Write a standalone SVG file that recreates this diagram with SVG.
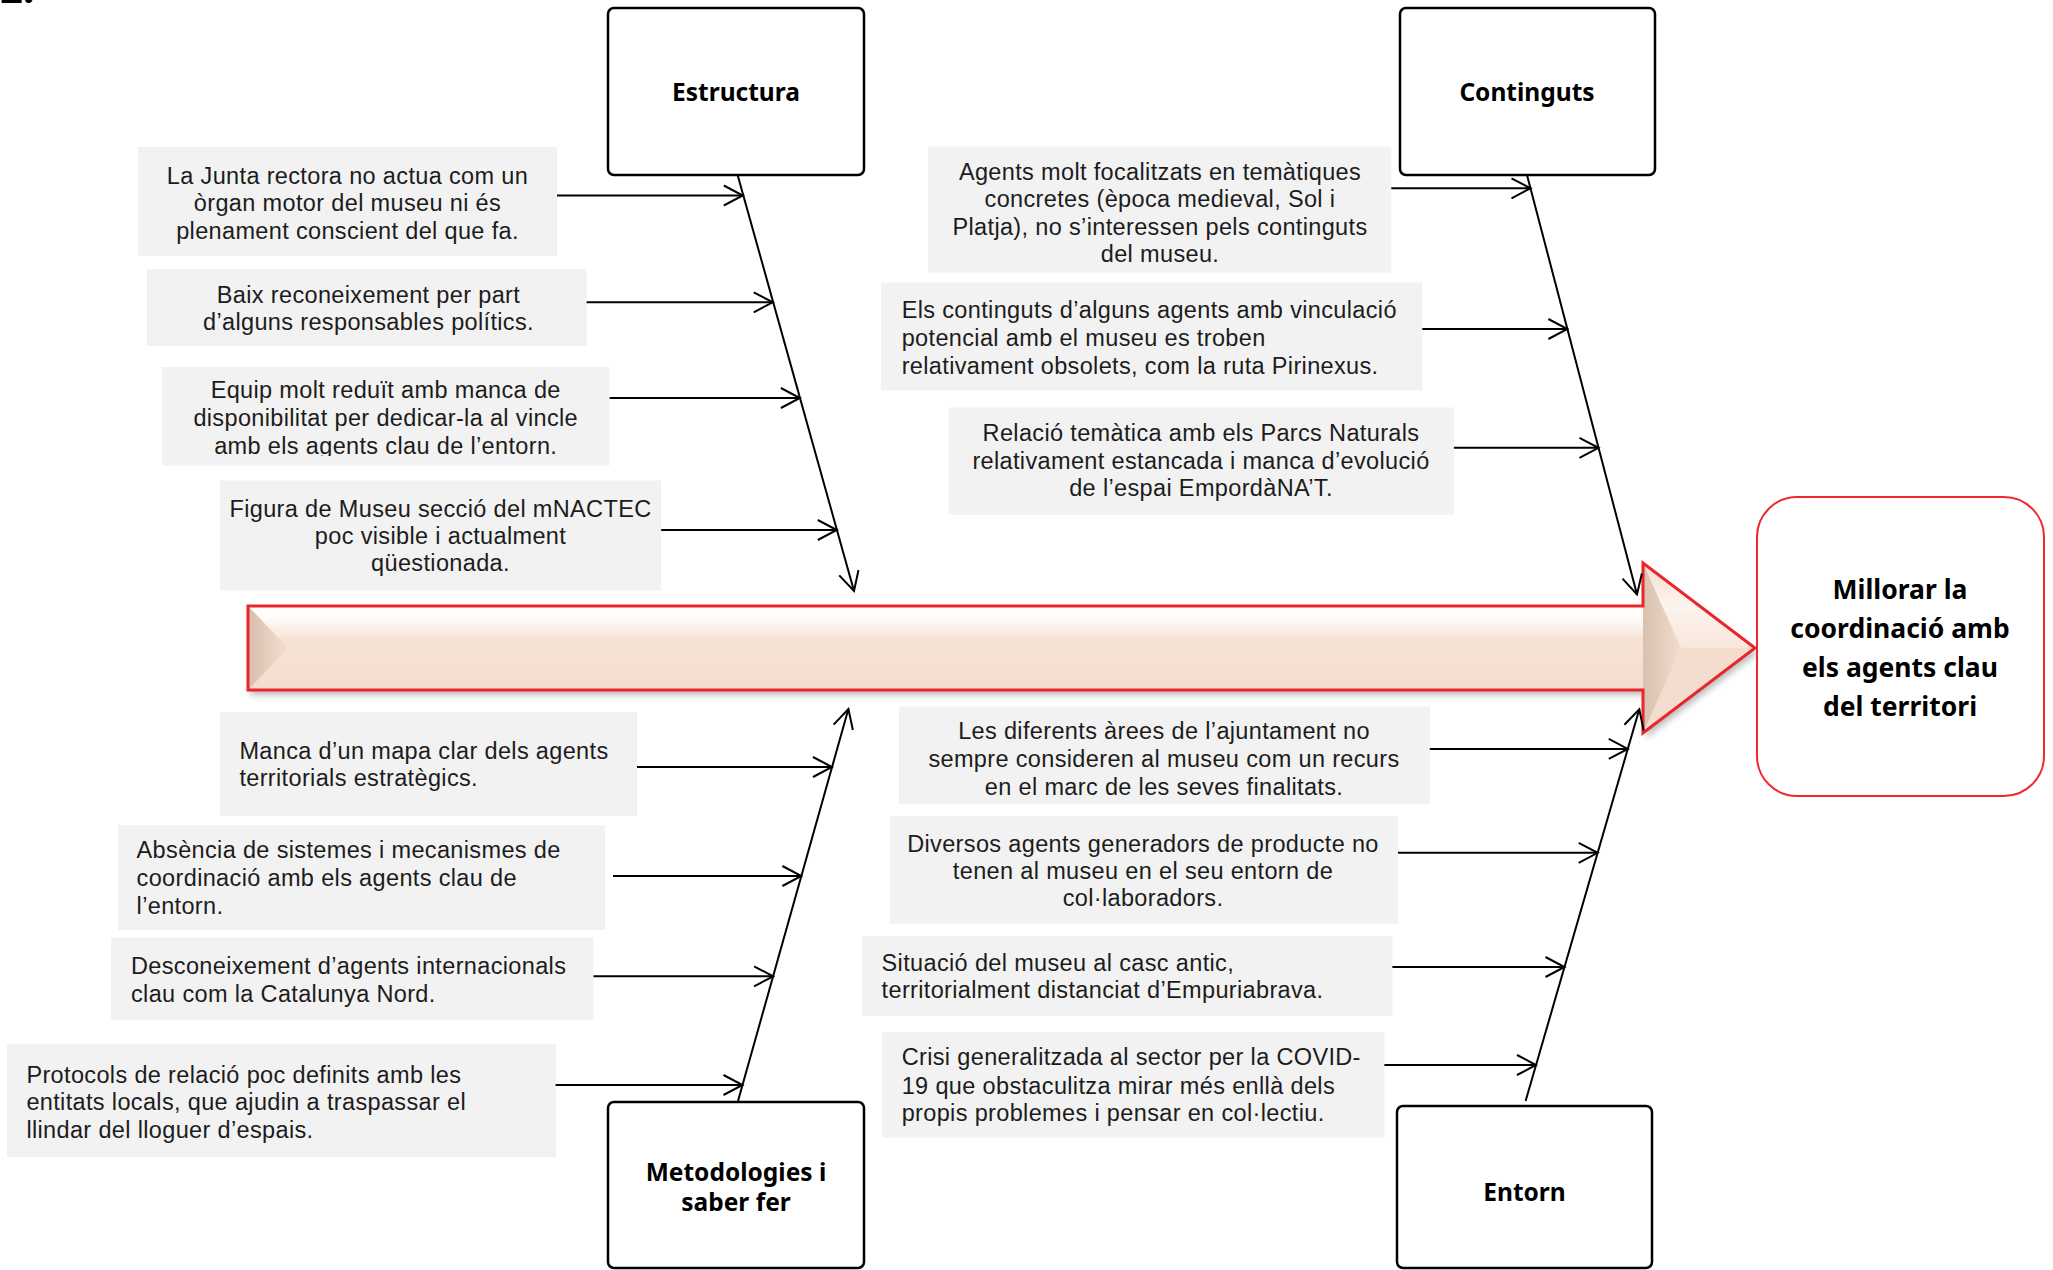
<svg xmlns="http://www.w3.org/2000/svg" width="2053" height="1270" viewBox="0 0 2053 1270">
<style>
  text { font-family: "Noto Sans", "Open Sans", "DejaVu Sans", sans-serif; fill: #1c1c1c; }
  .t { font-family: "Liberation Sans", Arial, sans-serif; font-size: 23.5px; letter-spacing: 0.35px; }
  .c { text-anchor: middle; }
  .h { font-size: 24.5px; font-weight: bold; fill: #000; text-anchor: middle; }
  .goal { font-size: 26.5px; font-weight: bold; fill: #000; text-anchor: middle; }
  .box { fill: #f2f2f2; stroke: none; }
  .cat { fill: #ffffff; stroke: #000; stroke-width: 2.5; }
  .ln { stroke: #000; stroke-width: 2; fill: none; marker-end: url(#ch); }
</style>
<defs>
  <marker id="ch" viewBox="-22 -12 24 24" refX="0" refY="0" markerWidth="24" markerHeight="24" orient="auto" markerUnits="userSpaceOnUse">
    <path d="M-19,-10 L0,0 L-19,10" fill="none" stroke="#000" stroke-width="2"/>
  </marker>
  <linearGradient id="body" x1="0" y1="606" x2="0" y2="690" gradientUnits="userSpaceOnUse">
    <stop offset="0" stop-color="#ffffff"/>
    <stop offset="0.15" stop-color="#fffbf8"/>
    <stop offset="0.4" stop-color="#f7e3d6"/>
    <stop offset="1" stop-color="#f4ddcf"/>
  </linearGradient>
  <linearGradient id="lbev" x1="249" y1="0" x2="290" y2="0" gradientUnits="userSpaceOnUse">
    <stop offset="0" stop-color="#d8bfae"/>
    <stop offset="1" stop-color="#f5e0d2"/>
  </linearGradient>
  <linearGradient id="hbev" x1="1643" y1="0" x2="1682" y2="0" gradientUnits="userSpaceOnUse">
    <stop offset="0" stop-color="#d9c1b0"/>
    <stop offset="1" stop-color="#f3dccd"/>
  </linearGradient>
  <linearGradient id="hup" x1="0" y1="563" x2="0" y2="648" gradientUnits="userSpaceOnUse">
    <stop offset="0" stop-color="#f1dccd"/>
    <stop offset="0.5" stop-color="#fdf4ee"/>
    <stop offset="1" stop-color="#f8e6da"/>
  </linearGradient>
  <filter id="sh" x="-5%" y="-30%" width="110%" height="160%">
    <feGaussianBlur stdDeviation="3"/>
  </filter>
  <clipPath id="clip3"><rect x="162" y="367" width="448" height="89"/></clipPath>
</defs>

<text x="0" y="3" style="font-size:40px;font-weight:bold;fill:#000">2.</text>

<!-- Main spine arrow -->
<g id="spine-arrow">
  <path d="M250,611 L1646,611 L1646,568 L1758,653 L1646,738 L1646,695 L250,695 Z" fill="#8a8a8a" opacity="0.55" filter="url(#sh)"/>
  <path d="M248,606 L1643,606 L1643,563 L1755,648 L1643,733 L1643,690 L248,690 Z" fill="url(#body)"/>
  <polygon points="249,607 288,648 249,689" fill="url(#lbev)"/>
  <polygon points="1643,563 1755,648 1681,648" fill="url(#hup)"/>
  <polygon points="1643,733 1755,648 1681,648" fill="#f4ddce"/>
  <polygon points="1643,563 1681,648 1643,733" fill="url(#hbev)"/>
  <path d="M248,606 L1643,606 L1643,563 L1755,648 L1643,733 L1643,690 L248,690 Z" fill="none" stroke="#e8262b" stroke-width="3" stroke-linejoin="miter"/>
</g>

<!-- Goal -->
<g id="goal">
  <rect x="1757" y="497" width="287" height="299" rx="40" ry="40" fill="#ffffff" stroke="#ee2a2f" stroke-width="2"/>
  <text class="goal" x="1900" y="599">Millorar la</text>
  <text class="goal" x="1900" y="638">coordinació amb</text>
  <text class="goal" x="1900" y="677">els agents clau</text>
  <text class="goal" x="1900" y="716">del territori</text>
</g>

<!-- Category nodes -->
<g id="cat-estructura">
  <rect class="cat" x="608" y="8" width="256" height="167" rx="6"/>
  <text class="h" x="736" y="100.5">Estructura</text>
</g>
<g id="cat-continguts">
  <rect class="cat" x="1400" y="8" width="255" height="167" rx="6"/>
  <text class="h" x="1527" y="100.5">Continguts</text>
</g>
<g id="cat-metodologies">
  <rect class="cat" x="608" y="1102" width="256" height="166" rx="6"/>
  <text class="h" x="736" y="1180.5">Metodologies i</text>
  <text class="h" x="736" y="1210.5">saber fer</text>
</g>
<g id="cat-entorn">
  <rect class="cat" x="1397" y="1106" width="255" height="162" rx="6"/>
  <text class="h" x="1524.5" y="1200.5">Entorn</text>
</g>

<!-- Cause boxes: Estructura -->
<g id="c1">
  <rect class="box" x="138" y="147" width="419" height="109"/>
  <text class="t c" x="347.5" y="183.5">La Junta rectora no actua com un</text>
  <text class="t c" x="347.5" y="211">òrgan motor del museu ni és</text>
  <text class="t c" x="347.5" y="238.5">plenament conscient del que fa.</text>
</g>
<g id="c2">
  <rect class="box" x="147" y="269" width="439.5" height="77"/>
  <text class="t c" x="368.5" y="302.7">Baix reconeixement per part</text>
  <text class="t c" x="368.5" y="330.3">d’alguns responsables polítics.</text>
</g>
<g id="c3">
  <rect class="box" x="162" y="367" width="447.5" height="98.5"/>
  <g clip-path="url(#clip3)">
    <text class="t c" x="385.7" y="398.3">Equip molt reduït amb manca de</text>
    <text class="t c" x="385.7" y="426">disponibilitat per dedicar-la al vincle</text>
    <text class="t c" x="385.7" y="453.6">amb els agents clau de l’entorn.</text>
  </g>
</g>
<g id="c4">
  <rect class="box" x="220" y="480.5" width="441" height="110"/>
  <text class="t c" x="440.5" y="517">Figura de Museu secció del mNACTEC</text>
  <text class="t c" x="440.5" y="544">poc visible i actualment</text>
  <text class="t c" x="440.5" y="571">qüestionada.</text>
</g>

<!-- Cause boxes: Continguts -->
<g id="c5">
  <rect class="box" x="928" y="146.6" width="463.3" height="126"/>
  <text class="t c" x="1160" y="180">Agents molt focalitzats en temàtiques</text>
  <text class="t c" x="1160" y="207.3">concretes (època medieval, Sol i</text>
  <text class="t c" x="1160" y="234.6">Platja), no s’interessen pels continguts</text>
  <text class="t c" x="1160" y="261.5">del museu.</text>
</g>
<g id="c6">
  <rect class="box" x="881" y="282.4" width="541.3" height="108"/>
  <text class="t" x="901.7" y="318">Els continguts d’alguns agents amb vinculació</text>
  <text class="t" x="901.7" y="346">potencial amb el museu es troben</text>
  <text class="t" x="901.7" y="373.5">relativament obsolets, com la ruta Pirinexus.</text>
</g>
<g id="c7">
  <rect class="box" x="948.5" y="407.5" width="505.4" height="107.2"/>
  <text class="t c" x="1201" y="441">Relació temàtica amb els Parcs Naturals</text>
  <text class="t c" x="1201" y="469">relativament estancada i manca d’evolució</text>
  <text class="t c" x="1201" y="496">de l’espai EmpordàNA’T.</text>
</g>

<!-- Cause boxes: Metodologies -->
<g id="c8">
  <rect class="box" x="220" y="712" width="417" height="104"/>
  <text class="t" x="239.4" y="758.8">Manca d’un mapa clar dels agents</text>
  <text class="t" x="239.4" y="786">territorials estratègics.</text>
</g>
<g id="c9">
  <rect class="box" x="118" y="825" width="487" height="105"/>
  <text class="t" x="136.6" y="858">Absència de sistemes i mecanismes de</text>
  <text class="t" x="136.6" y="886">coordinació amb els agents clau de</text>
  <text class="t" x="136.6" y="913.6">l’entorn.</text>
</g>
<g id="c10">
  <rect class="box" x="111" y="937.6" width="482.5" height="82.4"/>
  <text class="t" x="131" y="974">Desconeixement d’agents internacionals</text>
  <text class="t" x="131" y="1001.7">clau com la Catalunya Nord.</text>
</g>
<g id="c11">
  <rect class="box" x="7" y="1044" width="549" height="113"/>
  <text class="t" x="26.4" y="1082.6">Protocols de relació poc definits amb les</text>
  <text class="t" x="26.4" y="1110">entitats locals, que ajudin a traspassar el</text>
  <text class="t" x="26.4" y="1138">llindar del lloguer d’espais.</text>
</g>

<!-- Cause boxes: Entorn -->
<g id="c12">
  <rect class="box" x="899" y="706.5" width="531" height="97.7"/>
  <text class="t c" x="1164" y="739">Les diferents àrees de l’ajuntament no</text>
  <text class="t c" x="1164" y="767">sempre consideren al museu com un recurs</text>
  <text class="t c" x="1164" y="795">en el marc de les seves finalitats.</text>
</g>
<g id="c13">
  <rect class="box" x="890" y="816" width="508" height="107.6"/>
  <text class="t c" x="1143" y="851.5">Diversos agents generadors de producte no</text>
  <text class="t c" x="1143" y="878.5">tenen al museu en el seu entorn de</text>
  <text class="t c" x="1143" y="906">col·laboradors.</text>
</g>
<g id="c14">
  <rect class="box" x="862" y="936" width="530.4" height="79.7"/>
  <text class="t" x="881.6" y="971.2">Situació del museu al casc antic,</text>
  <text class="t" x="881.6" y="998">territorialment distanciat d’Empuriabrava.</text>
</g>
<g id="c15">
  <rect class="box" x="882" y="1032" width="502.4" height="105.5"/>
  <text class="t" x="901.7" y="1065.3">Crisi generalitzada al sector per la COVID-</text>
  <text class="t" x="901.7" y="1093.5">19 que obstaculitza mirar més enllà dels</text>
  <text class="t" x="901.7" y="1121.4">propis problemes i pensar en col·lectiu.</text>
</g>

<!-- Connectors -->
<g id="connectors">
  <line class="ln" x1="737.6" y1="175" x2="854" y2="591"/>
  <line class="ln" x1="557" y1="195.5" x2="742.8" y2="195.5"/>
  <line class="ln" x1="586.6" y1="302.3" x2="772.7" y2="302.3"/>
  <line class="ln" x1="609.6" y1="398" x2="799.9" y2="398"/>
  <line class="ln" x1="661.2" y1="530" x2="836.8" y2="530"/>

  <line class="ln" x1="1527" y1="175" x2="1637" y2="594.5"/>
  <line class="ln" x1="1391.3" y1="188.3" x2="1530.5" y2="188.3"/>
  <line class="ln" x1="1422.3" y1="329" x2="1567.4" y2="329"/>
  <line class="ln" x1="1453.9" y1="447.8" x2="1598.5" y2="447.8"/>

  <line class="ln" x1="738" y1="1101" x2="848.4" y2="709"/>
  <line class="ln" x1="637" y1="767" x2="832" y2="767"/>
  <line class="ln" x1="613" y1="876" x2="801.4" y2="876"/>
  <line class="ln" x1="593.5" y1="976.3" x2="773.1" y2="976.3"/>
  <line class="ln" x1="555.6" y1="1085" x2="742.5" y2="1085"/>

  <line class="ln" x1="1525.6" y1="1101" x2="1639.3" y2="709.3"/>
  <line class="ln" x1="1429.8" y1="748.9" x2="1627.8" y2="748.9"/>
  <line class="ln" x1="1398" y1="852.8" x2="1597.7" y2="852.8"/>
  <line class="ln" x1="1392.4" y1="967" x2="1564.5" y2="967"/>
  <line class="ln" x1="1384.4" y1="1065" x2="1536" y2="1065"/>
</g>
</svg>
